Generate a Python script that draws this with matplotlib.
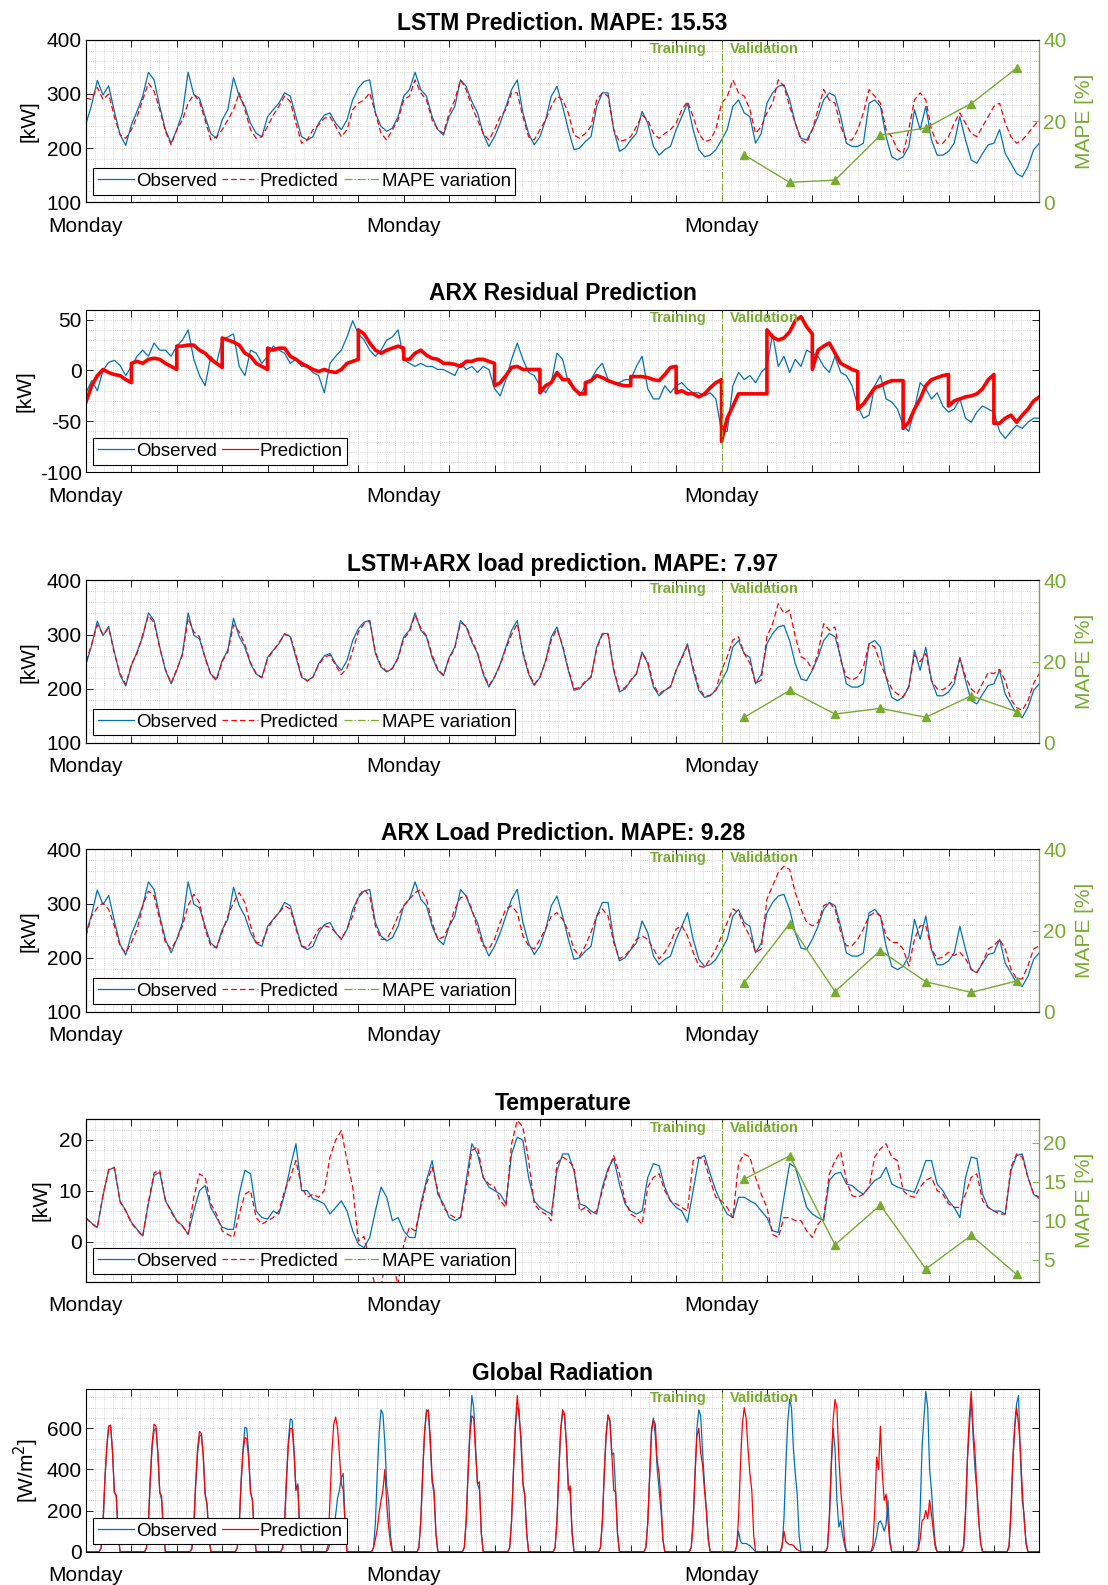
import matplotlib
matplotlib.use('Agg')
import matplotlib.pyplot as plt
import numpy as np
from matplotlib.ticker import MultipleLocator
from matplotlib.lines import Line2D
from matplotlib.transforms import blended_transform_factory

plt.rcParams['font.family'] = ['Liberation Sans', 'DejaVu Sans']
plt.rcParams['axes.unicode_minus'] = False

# ---------------- data (time in days from first Monday, 3 h steps) ----------------
MONDAYS = [0, 7, 14]
SPLIT_DAY = 14
MAPE_DAYS = [14.5, 15.5, 16.5, 17.5, 18.5, 19.5, 20.5]

load_obs = [
    [245, 280, 325, 298, 315, 268, 225, 205],
    [243, 268, 296, 340, 326, 277, 234, 209],
    [234, 265, 340, 299, 292, 258, 227, 218],
    [252, 271, 330, 296, 277, 246, 227, 221],
    [258, 271, 283, 302, 296, 258, 221, 215],
    [221, 246, 261, 265, 246, 234, 252, 289],
    [311, 323, 326, 265, 240, 231, 237, 258],
    [296, 308, 340, 308, 296, 258, 234, 224],
    [258, 277, 326, 314, 286, 265, 227, 203],
    [221, 246, 277, 308, 326, 265, 227, 206],
    [221, 252, 296, 314, 277, 234, 197, 200],
    [212, 221, 277, 302, 302, 234, 194, 200],
    [215, 227, 268, 246, 203, 187, 197, 203],
    [234, 258, 283, 234, 197, 184, 187, 197],
    [215, 234, 277, 289, 265, 258, 209, 227],
    [283, 302, 314, 317, 289, 246, 218, 215],
    [234, 258, 289, 302, 296, 258, 209, 203],
    [203, 209, 283, 289, 277, 221, 184, 178],
    [184, 203, 271, 234, 277, 215, 187, 187],
    [194, 209, 258, 215, 178, 172, 190, 206],
    [209, 234, 190, 172, 153, 147, 166, 197],
    [209],
]
load_lstm = [
    [292, 290, 312, 290, 300, 258, 225, 218],
    [234, 258, 289, 320, 305, 271, 231, 206],
    [234, 252, 283, 299, 286, 252, 215, 221],
    [234, 252, 271, 302, 271, 234, 218, 221],
    [240, 261, 277, 296, 286, 246, 209, 215],
    [234, 243, 255, 258, 240, 221, 234, 271],
    [283, 289, 302, 265, 227, 215, 234, 252],
    [289, 296, 326, 302, 289, 252, 234, 227],
    [265, 289, 326, 308, 277, 252, 227, 215],
    [234, 258, 271, 302, 302, 258, 221, 215],
    [234, 252, 277, 296, 289, 265, 224, 218],
    [227, 240, 289, 302, 296, 234, 212, 215],
    [221, 240, 261, 252, 227, 218, 227, 234],
    [246, 271, 286, 258, 227, 212, 215, 234],
    [283, 295, 326, 302, 296, 271, 227, 240],
    [265, 283, 326, 314, 277, 246, 215, 209],
    [234, 271, 308, 289, 283, 240, 215, 215],
    [234, 265, 308, 296, 283, 234, 221, 197],
    [190, 234, 289, 302, 289, 234, 209, 209],
    [221, 246, 265, 246, 227, 221, 240, 258],
    [277, 283, 246, 221, 209, 215, 227, 240],
    [252],
]
load_comb = [
    [250, 282, 318, 300, 312, 265, 228, 208],
    [245, 265, 300, 335, 322, 275, 236, 210],
    [236, 262, 330, 305, 296, 256, 226, 215],
    [250, 268, 318, 305, 282, 248, 228, 220],
    [255, 270, 285, 300, 298, 262, 224, 214],
    [222, 244, 258, 262, 243, 226, 238, 270],
    [305, 320, 325, 268, 242, 232, 238, 256],
    [292, 305, 336, 312, 298, 262, 236, 225],
    [256, 275, 322, 316, 290, 266, 230, 206],
    [222, 244, 274, 300, 320, 268, 230, 208],
    [222, 250, 290, 310, 280, 236, 200, 202],
    [214, 222, 274, 300, 300, 236, 198, 202],
    [216, 228, 266, 250, 208, 190, 198, 204],
    [234, 256, 280, 240, 202, 186, 188, 198],
    [234, 259, 290, 296, 265, 247, 210, 216],
    [296, 320, 357, 339, 345, 296, 259, 253],
    [235, 265, 320, 308, 314, 253, 222, 216],
    [222, 240, 283, 277, 247, 222, 200, 190],
    [185, 204, 262, 250, 265, 215, 200, 198],
    [205, 218, 255, 222, 200, 190, 210, 230],
    [228, 236, 215, 180, 165, 160, 178, 210],
    [228],
]
load_arx = [
    [240, 277, 292, 301, 289, 259, 221, 209],
    [228, 252, 296, 323, 314, 271, 228, 216],
    [234, 259, 296, 317, 302, 252, 222, 218],
    [247, 277, 302, 320, 302, 259, 228, 228],
    [253, 271, 283, 296, 290, 253, 222, 218],
    [234, 253, 259, 256, 247, 234, 253, 277],
    [314, 326, 314, 259, 234, 234, 253, 277],
    [296, 308, 320, 326, 308, 265, 234, 238],
    [259, 290, 311, 314, 290, 253, 222, 216],
    [234, 265, 290, 296, 283, 240, 222, 216],
    [234, 253, 277, 283, 271, 249, 216, 203],
    [222, 247, 277, 290, 277, 228, 198, 204],
    [216, 234, 240, 234, 216, 198, 210, 228],
    [253, 259, 240, 210, 185, 182, 198, 216],
    [240, 265, 290, 283, 259, 240, 210, 216],
    [308, 333, 357, 369, 363, 320, 290, 265],
    [259, 265, 296, 302, 290, 247, 222, 222],
    [234, 253, 277, 284, 277, 240, 228, 228],
    [216, 185, 234, 259, 259, 216, 198, 201],
    [210, 204, 210, 198, 179, 173, 191, 216],
    [222, 234, 216, 179, 161, 161, 185, 216],
    [222],
]

res_obs = [
    [-22, -10, -20, 0, 8, 10, 5, -5],
    [4, 14, 20, 14, 27, 20, 20, 14],
    [24, 30, 40, 11, -5, -15, 14, 7],
    [30, 33, 36, 4, -5, 20, 17, 7],
    [14, 24, 20, 17, 7, 11, 4, 4],
    [-2, -5, -22, 7, 14, 20, 33, 49],
    [36, 30, 20, 14, 20, 30, 33, 40],
    [11, 7, 4, 7, 4, 4, 1, 1],
    [-2, -5, 7, 1, 4, -2, 4, 1],
    [-18, -25, -9, 11, 27, 11, -2, -5],
    [-15, -22, -12, 17, 11, -12, -18, -25],
    [-15, -9, 1, 7, -9, -12, -12, -9],
    [-9, 4, 14, -18, -28, -28, -15, -22],
    [-15, -12, -18, -22, -22, -25, -22, -28],
    [-60, -60, -15, -2, -9, -5, -12, -2],
    [4, 36, 4, 14, -2, 11, 4, 20],
    [17, 14, 4, -2, 14, -2, -5, -15],
    [-35, -47, -44, -15, -5, -28, -31, -38],
    [-54, -60, -38, -12, -18, -28, -22, -35],
    [-41, -38, -28, -47, -51, -41, -35, -38],
    [-41, -60, -67, -60, -54, -57, -51, -47],
    [-47],
]
# residual model restarts every day: values at 0,3,...,24 h of each day
RES_HOURS = [0, 3, 6, 9, 12, 15, 18, 21, 24]
res_pred = [
    [-31, -15, -5, 1, -2, -4, -5, -9, -12],
    [7, 9, 7, 11, 12, 11, 7, 4, 1],
    [24, 24, 25, 25, 20, 17, 11, 7, 3],
    [32, 30, 28, 25, 17, 14, 7, 4, 1],
    [22, 20, 22, 22, 14, 11, 7, 4, 1],
    [1, -1, 1, -1, -2, 1, 7, 9, 11],
    [40, 36, 27, 20, 17, 20, 22, 24, 22],
    [11, 11, 17, 20, 15, 12, 11, 7, 7],
    [7, 6, 4, 9, 9, 11, 11, 9, 7],
    [-15, -12, -5, 3, 4, 1, 1, 1, 1],
    [-22, -15, -12, -2, -9, -9, -18, -23, -23],
    [-12, -10, -5, -7, -10, -12, -14, -15, -15],
    [-6, -6, -6, -7, -9, -10, -4, 3, 4],
    [-22, -20, -23, -23, -26, -23, -17, -12, -9],
    [-70, -47, -35, -23, -23, -23, -23, -23, -23],
    [40, 33, 30, 32, 38, 49, 53, 43, 36],
    [1, 20, 24, 27, 17, 7, 4, 1, -1],
    [-38, -33, -25, -17, -15, -12, -10, -10, -10],
    [-57, -51, -38, -28, -15, -9, -7, -5, -4],
    [-35, -30, -28, -26, -25, -23, -18, -9, -4],
    [-52, -52, -47, -44, -51, -44, -38, -30, -26],
]

temp_obs = [
    [4.7, 3.6, 2.8, 9.0, 14.0, 14.6, 8.0, 6.1],
    [3.8, 2.4, 1.1, 7.4, 13.0, 13.6, 8.0, 6.1],
    [4.1, 3.1, 1.4, 6.0, 10.0, 11.0, 6.7, 4.7],
    [2.8, 2.4, 2.4, 9.3, 14.0, 13.3, 6.0, 4.7],
    [4.4, 6.0, 5.4, 9.3, 14.6, 19.2, 10.0, 10.0],
    [8.4, 8.0, 7.4, 5.4, 6.7, 8.0, 6.0, 2.1],
    [-0.5, -1.2, 0.8, 6.0, 10.7, 8.7, 4.1, 4.7],
    [2.1, 0.8, 0.8, 7.4, 12.0, 15.9, 9.3, 7.4],
    [4.7, 4.1, 4.7, 12.0, 19.2, 17.2, 12.6, 10.7],
    [10.0, 9.3, 7.4, 17.2, 20.5, 19.9, 12.6, 8.0],
    [6.7, 6.0, 5.4, 13.9, 17.2, 17.2, 13.9, 7.4],
    [7.0, 6.0, 5.4, 10.7, 14.3, 16.3, 11.3, 7.4],
    [6.0, 5.4, 6.0, 12.6, 15.3, 14.9, 10.7, 8.0],
    [6.7, 6.0, 3.8, 10.0, 16.3, 16.9, 13.3, 10.0],
    [7.4, 5.4, 4.7, 8.7, 8.7, 8.0, 7.4, 6.0],
    [4.7, 2.1, 1.8, 8.7, 15.3, 14.6, 10.7, 6.7],
    [5.4, 4.7, 4.1, 12.0, 13.3, 13.6, 11.3, 11.0],
    [10.0, 9.3, 10.7, 12.0, 12.6, 14.6, 11.3, 10.7],
    [10.3, 10.0, 9.7, 12.6, 15.9, 15.9, 11.3, 10.0],
    [8.0, 6.7, 4.7, 12.6, 16.6, 16.3, 9.3, 6.7],
    [6.0, 6.0, 5.4, 13.9, 16.9, 17.2, 12.6, 9.3],
    [8.4],
]
temp_pred = [
    [4.6, 3.5, 2.7, 9.2, 14.2, 14.5, 7.8, 6.0],
    [3.6, 2.3, 1.0, 7.8, 13.5, 14.0, 8.2, 5.8],
    [4.0, 3.0, 1.5, 8.7, 13.3, 12.6, 7.4, 5.4],
    [2.1, 1.4, 0.8, 5.4, 9.3, 10.0, 4.7, 3.4],
    [4.1, 4.7, 6.0, 10.0, 12.6, 15.9, 10.7, 8.7],
    [9.3, 8.7, 10.0, 16.6, 19.9, 21.8, 15.9, 10.7],
    [0.1, 1.0, -4.0, -9.0, -9.0, -2.0, -4.0, -8.5],
    [-0.5, 2.8, 2.1, 6.7, 11.3, 14.6, 10.0, 6.7],
    [5.4, 4.7, 4.7, 10.7, 17.9, 18.6, 12.6, 11.3],
    [10.7, 8.0, 6.7, 19.2, 23.8, 22.5, 15.9, 7.4],
    [6.0, 5.4, 4.1, 15.3, 16.6, 15.9, 14.6, 6.0],
    [6.7, 5.4, 6.0, 10.0, 13.9, 16.9, 13.3, 8.0],
    [5.4, 4.7, 3.4, 10.7, 12.6, 13.3, 10.0, 8.0],
    [7.4, 6.7, 6.0, 15.9, 16.6, 15.9, 12.0, 8.7],
    [8.0, 6.7, 4.7, 15.3, 17.2, 16.6, 12.6, 9.3],
    [6.7, 1.4, 0.8, 4.7, 4.7, 4.1, 4.1, 2.1],
    [0.8, 3.4, 4.7, 13.3, 15.9, 17.6, 12.0, 9.0],
    [8.7, 9.3, 10.7, 16.6, 18.2, 19.2, 16.6, 15.9],
    [10.0, 9.0, 8.7, 10.7, 12.0, 12.6, 10.0, 9.3],
    [7.4, 6.7, 6.7, 9.3, 12.6, 13.3, 8.0, 6.7],
    [6.0, 5.4, 5.4, 14.6, 17.2, 16.6, 12.6, 9.3],
    [8.7],
]

# global radiation, values at these hours of each day
RAD_HOURS = [0, 7, 8, 9, 10, 11, 12, 13, 14, 15, 16, 17, 18, 24]
rad_obs = [
    [0, 0, 20, 140, 350, 510, 610, 615, 490, 290, 270, 90, 0, 0],
    [0, 0, 20, 140, 350, 510, 590, 600, 480, 290, 250, 80, 0, 0],
    [0, 0, 15, 120, 320, 480, 560, 570, 470, 280, 230, 70, 0, 0],
    [0, 0, 20, 130, 340, 500, 605, 600, 480, 290, 250, 80, 0, 0],
    [0, 0, 20, 140, 360, 540, 645, 640, 500, 300, 330, 90, 0, 0],
    [0, 0, 10, 40, 60, 100, 180, 260, 300, 360, 380, 150, 0, 0],
    [0, 0, 20, 140, 380, 580, 690, 670, 530, 320, 250, 80, 0, 0],
    [0, 0, 20, 150, 380, 580, 690, 680, 520, 340, 280, 90, 0, 0],
    [0, 0, 20, 150, 390, 600, 760, 700, 500, 330, 300, 90, 0, 0],
    [0, 0, 20, 150, 400, 600, 700, 690, 520, 340, 280, 90, 0, 0],
    [0, 0, 20, 150, 390, 590, 675, 660, 520, 330, 280, 90, 0, 0],
    [0, 0, 20, 150, 380, 570, 665, 640, 470, 480, 300, 90, 0, 0],
    [0, 0, 20, 140, 370, 600, 650, 560, 400, 300, 200, 60, 0, 0],
    [0, 0, 20, 150, 380, 600, 690, 660, 480, 330, 200, 60, 0, 0],
    [0, 0, 30, 100, 50, 40, 40, 40, 35, 30, 20, 10, 0, 0],
    [0, 0, 20, 160, 420, 630, 740, 700, 500, 380, 280, 80, 0, 0],
    [0, 0, 20, 160, 400, 600, 500, 250, 120, 150, 80, 30, 0, 0],
    [0, 0, 10, 40, 80, 140, 150, 130, 100, 130, 250, 60, 0, 0],
    [0, 0, 20, 200, 500, 650, 780, 700, 400, 300, 150, 40, 0, 0],
    [0, 0, 20, 180, 450, 600, 740, 560, 400, 300, 150, 40, 0, 0],
    [0, 0, 20, 180, 420, 620, 720, 760, 460, 250, 180, 40, 0, 0],
]
rad_pred = [
    [0, 0, 20, 140, 350, 510, 610, 615, 490, 290, 275, 90, 0, 0],
    [0, 0, 20, 140, 360, 530, 620, 610, 480, 290, 270, 80, 0, 0],
    [0, 0, 15, 130, 340, 500, 585, 575, 460, 280, 230, 70, 0, 0],
    [0, 0, 20, 130, 330, 480, 555, 550, 450, 290, 250, 80, 0, 0],
    [0, 0, 20, 140, 350, 520, 600, 600, 480, 300, 320, 90, 0, 0],
    [0, 0, 30, 250, 480, 620, 655, 600, 470, 330, 300, 120, 0, 0],
    [0, 0, 20, 60, 110, 190, 250, 300, 400, 230, 120, 40, 0, 0],
    [0, 0, 20, 150, 380, 580, 680, 690, 560, 360, 300, 90, 0, 0],
    [0, 0, 20, 150, 380, 570, 660, 650, 480, 330, 340, 90, 0, 0],
    [0, 0, 20, 150, 380, 620, 760, 650, 560, 330, 270, 90, 0, 0],
    [0, 0, 20, 150, 400, 600, 690, 670, 520, 300, 320, 90, 0, 0],
    [0, 0, 20, 150, 380, 570, 665, 630, 480, 300, 290, 90, 0, 0],
    [0, 0, 20, 140, 370, 580, 640, 620, 440, 380, 250, 60, 0, 0],
    [0, 0, 20, 150, 380, 560, 600, 480, 420, 300, 200, 60, 0, 0],
    [0, 0, 20, 170, 420, 620, 700, 650, 500, 380, 300, 80, 0, 0],
    [0, 0, 30, 100, 50, 40, 35, 35, 30, 20, 10, 5, 0, 0],
    [0, 0, 20, 170, 420, 640, 740, 700, 460, 300, 200, 60, 0, 0],
    [0, 0, 30, 200, 460, 400, 610, 380, 250, 280, 150, 40, 0, 0],
    [0, 0, 10, 60, 150, 160, 200, 160, 250, 180, 100, 20, 0, 0],
    [0, 0, 30, 200, 450, 650, 780, 600, 480, 300, 150, 40, 0, 0],
    [0, 0, 30, 200, 450, 600, 700, 620, 500, 300, 150, 40, 0, 0],
]

mape_lstm = [11.65, 4.9, 5.45, 16.5, 18.3, 24.3, 33.0]
mape_comb = [6.3, 12.9, 7.1, 8.5, 6.3, 11.6, 7.7]
mape_arx = [7.2, 21.7, 5.0, 15.1, 7.4, 4.8, 7.6]
mape_temp = [15.33, 18.3, 6.9, 12.0, 3.8, 8.1, 3.1]

# ---------------- helpers ----------------
BLUE = '#0072BD'
RED = '#FF0000'
GREEN = '#77AC30'
DASH = (0, (4.5, 2.5))


def flat(rows):
    return np.array([v for r in rows for v in r], dtype=float)


def t3(vals):
    return np.arange(len(vals)) * 3 / 24.0


def daily_t(rows, hours):
    return np.array([d + h / 24.0 for d in range(len(rows)) for h in hours])


def style(ax, ylim, yticks, yminor, twin=False):
    ax.set_xlim(0, 21)
    ax.set_ylim(*ylim)
    ax.set_yticks(yticks)
    ax.yaxis.set_minor_locator(MultipleLocator(yminor))
    ax.set_xticks(range(22))
    ax.set_xticklabels(['Monday' if d in MONDAYS else '' for d in range(22)])
    ax.xaxis.set_minor_locator(MultipleLocator(0.2))
    ax.tick_params(which='major', direction='in', length=5, width=0.6,
                   top=True, right=not twin, labelsize=15)
    ax.tick_params(axis='x', pad=10.5)
    ax.tick_params(axis='y', pad=3)
    ax.tick_params(which='minor', length=0)
    ax.grid(which='both', color='#c8c8c8', linestyle=':', linewidth=0.6)
    ax.set_axisbelow(True)
    for s in ax.spines.values():
        s.set_linewidth(0.8)
    ax.axvline(SPLIT_DAY, color=GREEN, linestyle='-.', linewidth=0.8)
    tr = blended_transform_factory(ax.transData, ax.transAxes)
    ax.text(SPLIT_DAY - 0.33, 0.945, 'Training', transform=tr, ha='right', va='center',
            color=GREEN, fontsize=10.5, fontweight='bold')
    ax.text(SPLIT_DAY + 0.19, 0.945, 'Validation', transform=tr, ha='left', va='center',
            color=GREEN, fontsize=10.5, fontweight='bold')


def add_mape(ax, vals, ylim, yticks):
    ax2 = ax.twinx()
    ax2.plot(MAPE_DAYS, vals, color=GREEN, linewidth=1.0, marker='^', markersize=6,
             markerfacecolor=GREEN, markeredgecolor=GREEN)
    ax2.set_ylim(*ylim)
    ax2.set_yticks(yticks)
    ax2.tick_params(axis='y', direction='in', length=5, width=0.6, colors=GREEN,
                    labelsize=15, pad=3)
    ax2.spines['right'].set_color(GREEN)
    ax2.spines['right'].set_linewidth(0.8)
    ax2.set_ylabel('MAPE [%]', color=GREEN, fontsize=15, labelpad=6)
    return ax2


def legend(ax, labels, styles):
    handles = [Line2D([], [], **s) for s in styles]
    leg = ax.legend(handles, labels, loc='lower left', ncol=len(labels), fontsize=13.5,
                    frameon=True, fancybox=False, edgecolor='black', framealpha=1,
                    borderpad=0.25, handlelength=1.9, handletextpad=0.1,
                    columnspacing=0.3, borderaxespad=0.4)
    leg.get_frame().set_linewidth(0.8)


OBS_STYLE = dict(color=BLUE, linewidth=0.9)
PRED_STYLE = dict(color=RED, linewidth=0.9, linestyle=DASH)
MAPE_STYLE = dict(color=GREEN, linewidth=0.9, linestyle='-.')
SOLID_RED = dict(color=RED, linewidth=0.9)

# ---------------- figure ----------------
fig = plt.figure(figsize=(11.08, 15.85), dpi=100)
L, W, H = 0.0776, 0.8604, 0.1025
bottoms = [0.8724, 0.7022, 0.5313, 0.3616, 0.1913, 0.0210]
axs = [fig.add_axes([L, b, W, H]) for b in bottoms]
TITLE = dict(fontsize=16.5, fontweight='bold', pad=7)

obs = flat(load_obs)
load_panels = [
    (axs[0], load_lstm, mape_lstm, 'LSTM Prediction. MAPE: 15.53'),
    (axs[2], load_comb, mape_comb, 'LSTM+ARX load prediction. MAPE: 7.97'),
    (axs[3], load_arx, mape_arx, 'ARX Load Prediction. MAPE: 9.28'),
]
for ax, pred_rows, mape, title in load_panels:
    pred = flat(pred_rows)
    ax.plot(t3(obs), obs, **OBS_STYLE)
    ax.plot(t3(pred), pred, **PRED_STYLE)
    style(ax, (100, 400), [100, 200, 300, 400], 20, twin=True)
    ax.set_ylabel('[kW]', fontsize=15, labelpad=6)
    ax.set_title(title, **TITLE)
    ax2 = add_mape(ax, mape, (0, 40), [0, 20, 40])
    legend(ax2, ['Observed', 'Predicted', 'MAPE variation'], [OBS_STYLE, PRED_STYLE, MAPE_STYLE])

# residual
ax = axs[1]
ro = flat(res_obs)
ax.plot(t3(ro), ro, **OBS_STYLE)
ax.plot(daily_t(res_pred, RES_HOURS), flat(res_pred), color=RED, linewidth=2.6)
style(ax, (-100, 60), [-100, -50, 0, 50], 10)
ax.set_ylabel('[kW]', fontsize=15, labelpad=4)
ax.set_title('ARX Residual Prediction', **TITLE)
legend(ax, ['Observed', 'Prediction'], [OBS_STYLE, SOLID_RED])

# temperature
ax = axs[4]
to = flat(temp_obs)
tp = flat(temp_pred)
ax.plot(t3(to), to, **OBS_STYLE)
ax.plot(t3(tp), tp, **PRED_STYLE)
style(ax, (-7.9, 24), [0, 10, 20], 2, twin=True)
ax.set_ylabel('[kW]', fontsize=15, labelpad=6)
ax.set_title('Temperature', **TITLE)
ax2 = add_mape(ax, mape_temp, (2.15, 23.0), [5, 10, 15, 20])
legend(ax2, ['Observed', 'Predicted', 'MAPE variation'], [OBS_STYLE, PRED_STYLE, MAPE_STYLE])

# radiation
ax = axs[5]
ax.plot(daily_t(rad_obs, RAD_HOURS), flat(rad_obs), **OBS_STYLE)
ax.plot(daily_t(rad_pred, RAD_HOURS), flat(rad_pred), **SOLID_RED)
style(ax, (0, 790), [0, 200, 400, 600], 50)
ax.set_ylabel('[W/m$^2$]', fontsize=15, labelpad=4)
ax.set_title('Global Radiation', **TITLE)
legend(ax, ['Observed', 'Prediction'], [OBS_STYLE, SOLID_RED])

fig.savefig('out.png', dpi=100)
